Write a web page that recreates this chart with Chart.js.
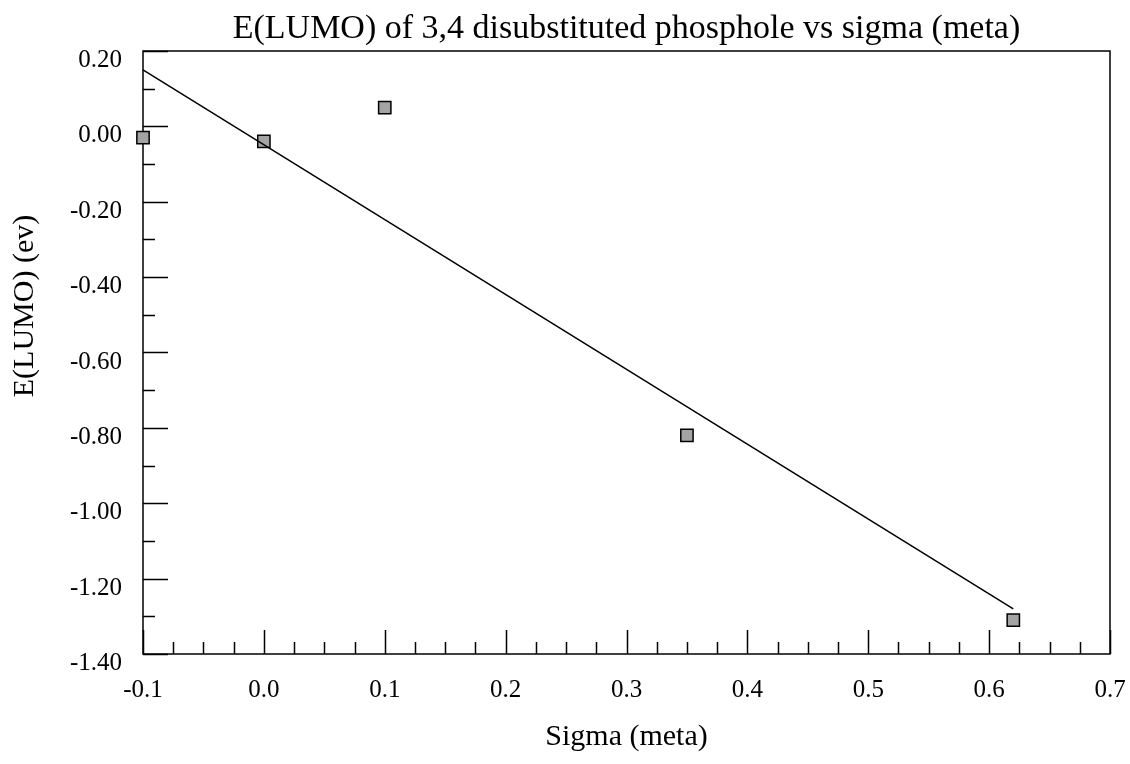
<!DOCTYPE html>
<html>
<head>
<meta charset="utf-8">
<script src="https://cdn.jsdelivr.net/npm/chart.js@4/dist/chart.umd.min.js"></script>
<style>
    body { margin: 0; background: #fff; }
    #wrap { width: 1130px; height: 764px; position: relative; }
</style>
</head>
<body>
<div id="wrap"><canvas id="lumo"></canvas></div>
<script>
const sigmaMeta = [-0.1, 0.0, 0.1, 0.35, 0.62];
const eLumo = [-0.03, -0.04, 0.05, -0.82, -1.31];
const fitX = [-0.1, 0.62];
const fitY = [0.15, -1.28];
const xTicks = [-0.1, 0.0, 0.1, 0.2, 0.3, 0.4, 0.5, 0.6, 0.7];
const xTickLabels = ['-0.1', '0.0', '0.1', '0.2', '0.3', '0.4', '0.5', '0.6', '0.7'];
const yTicks = [0.2, 0.0, -0.2, -0.4, -0.6, -0.8, -1.0, -1.2, -1.4];
const yTickLabels = ['0.20', '0.00', '-0.20', '-0.40', '-0.60', '-0.80', '-1.00', '-1.20', '-1.40'];

const chartTitle = 'E(LUMO) of 3,4 disubstituted phosphole vs sigma (meta)';
const xTitle = 'Sigma (meta)';
const yTitle = 'E(LUMO) (ev)';
const serif = 'Liberation Serif';

// frame, inward ticks and all the text, in the old plotting-package look
const framePlugin = {
    id: 'frame',
    beforeDatasetsDraw(chart) {
        const {ctx, chartArea: a, scales: {x, y}} = chart;
        ctx.save();
        ctx.strokeStyle = '#000';
        ctx.lineWidth = 1.5;
        ctx.strokeRect(a.left, a.top, a.right - a.left, a.bottom - a.top);

        ctx.beginPath();
        for (let i = 0; i <= 32; i++) {
            let px = Math.round(x.getPixelForValue(-0.1 + i * 0.025)) + 0.5;
            let len = (i % 4 === 0) ? 24 : 12;
            ctx.moveTo(px, a.bottom);
            ctx.lineTo(px, a.bottom - len);
        }
        for (let i = 0; i <= 16; i++) {
            let py = Math.round(y.getPixelForValue(-1.4 + i * 0.1)) + 0.5;
            let len = (i % 2 === 0) ? 25 : 12;
            ctx.moveTo(a.left, py);
            ctx.lineTo(a.left + len, py);
        }
        ctx.stroke();
        ctx.restore();
    },
    afterDraw(chart) {
        const {ctx, chartArea: a, scales: {x, y}} = chart;
        ctx.save();
        ctx.fillStyle = '#000';
        ctx.textBaseline = 'alphabetic';

        ctx.font = `25px "${serif}"`;
        ctx.textAlign = 'center';
        xTicks.forEach((v, i) => ctx.fillText(xTickLabels[i], x.getPixelForValue(v), 697));
        ctx.textAlign = 'right';
        yTicks.forEach((v, i) => ctx.fillText(yTickLabels[i], 122, y.getPixelForValue(v) + 16));

        ctx.textAlign = 'center';
        ctx.font = `34px "${serif}"`;
        ctx.fillText(chartTitle, (a.left + a.right) / 2, 38);

        ctx.font = `30px "${serif}"`;
        ctx.fillText(xTitle, (a.left + a.right) / 2, 745);

        ctx.translate(33, 306);
        ctx.rotate(-Math.PI / 2);
        ctx.fillText(yTitle, 0, 0);
        ctx.restore();
    }
};

new Chart(document.getElementById('lumo'), {
    type: 'scatter',
    data: {
        datasets: [{
            type: 'line',
            data: fitX.map((v, i) => ({x: v, y: fitY[i]})),
            borderColor: '#000',
            borderWidth: 1.5,
            pointRadius: 0,
            fill: false,
            clip: false
        }, {
            data: sigmaMeta.map((v, i) => ({x: v, y: eLumo[i]})),
            pointStyle: 'rect',
            pointRadius: 8.7,
            backgroundColor: '#a4a4a4',
            borderColor: '#000',
            borderWidth: 1.5,
            clip: false
        }]
    },
    options: {
        responsive: true,
        maintainAspectRatio: false,
        animation: false,
        layout: {padding: {left: 0, right: 20, top: 51, bottom: 0}},
        plugins: {legend: {display: false}, tooltip: {enabled: false}, title: {display: false}},
        scales: {
            x: {
                type: 'linear',
                min: -0.1,
                max: 0.7,
                afterBuildTicks: s => { s.ticks = xTicks.map(v => ({value: v})); },
                afterFit: s => { s.height = 110; },
                grid: {display: false, drawTicks: false},
                border: {display: false},
                ticks: {display: false}
            },
            y: {
                type: 'linear',
                min: -1.4,
                max: 0.2,
                afterBuildTicks: s => { s.ticks = yTicks.map(v => ({value: v})); },
                afterFit: s => { s.width = 143; },
                grid: {display: false, drawTicks: false},
                border: {display: false},
                ticks: {display: false}
            }
        }
    },
    plugins: [framePlugin]
});
</script>
</body>
</html>
